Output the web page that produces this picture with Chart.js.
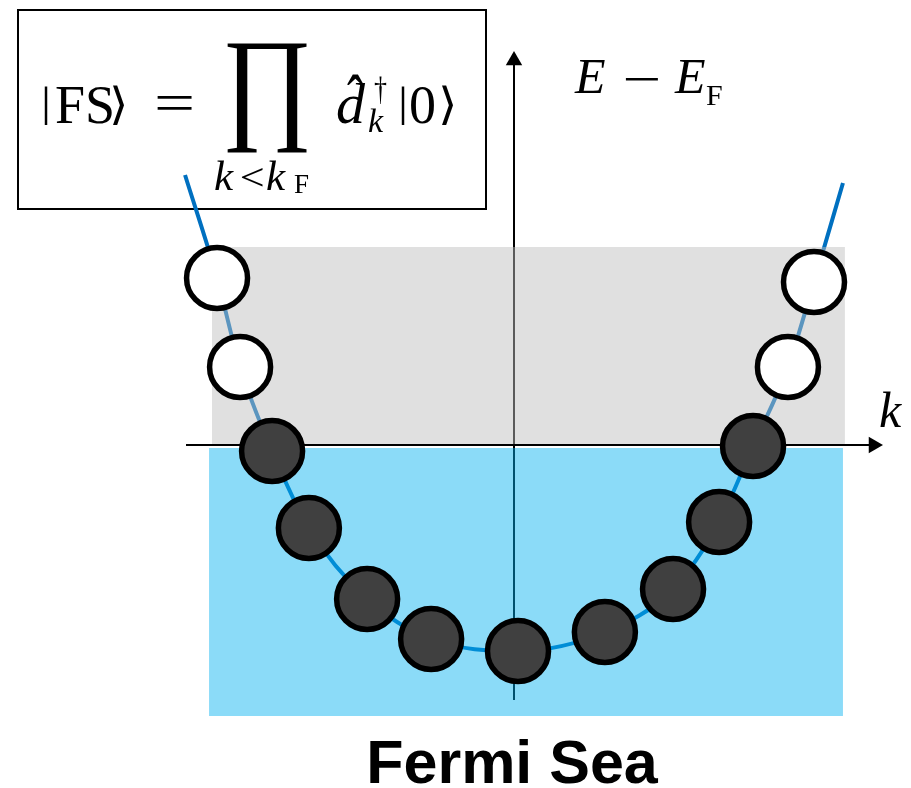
<!DOCTYPE html>
<html>
<head>
<meta charset="utf-8">
<script src="https://cdn.jsdelivr.net/npm/chart.js@4/dist/chart.umd.min.js"></script>
<style>
  html, body { margin: 0; padding: 0; background: #ffffff; }
  #wrap { width: 911px; height: 788px; position: relative; }
</style>
</head>
<body>
<div id="wrap"><canvas id="fermi"></canvas></div>
<script>
// Parabolic band E(k) - E_F (plot units: k horizontal, energy vertical)
const bandK = [-1.028, -0.928, -0.856, -0.756, -0.641, -0.459, -0.259, 0.0125, 0.284, 0.497, 0.641, 0.747, 0.856, 0.9375, 1.028];
const bandE = [1.35, 0.835, 0.39, -0.03, -0.415, -0.77, -0.97, -1.03, -0.935, -0.72, -0.385, -0.005, 0.39, 0.815, 1.31];

// Occupied states (below the Fermi level)
const occupiedK = [-0.756, -0.641, -0.459, -0.259, 0.0125, 0.284, 0.497, 0.641, 0.747];
const occupiedE = [-0.03, -0.415, -0.77, -0.97, -1.03, -0.935, -0.72, -0.385, -0.005];

// Empty states (above the Fermi level)
const emptyK = [-0.928, -0.856, 0.856, 0.9375];
const emptyE = [0.835, 0.39, 0.39, 0.815];

// Shaded regions: unoccupied window and the Fermi sea
const emptyBandK = [-0.944, 1.034];
const emptyBandTop = 0.99;
const emptyBandBottom = 0;
const seaK = [-0.953, 1.028];
const seaTop = -0.015;
const seaBottom = -1.355;

// Axis extents (arrow heads sit at the far ends)
const kAxisSpan = [-1.025, 1.1234];
const eAxisSpan = [-1.275, 1.9225];

// Visible window of the plane
const kWindow = [-1.60625, 1.240625];
const eWindow = [-1.715, 2.225];

// Text
const titleText = 'Fermi Sea';
const energyLabel = ['E', '\u2212', 'E', 'F'];
const momentumLabel = 'k';

const pts = (ks, es) => ks.map((k, i) => ({ x: k, y: es[i] }));

function fitText(ctx, text, font, x, y, w, h) {
  ctx.save();
  ctx.font = font;
  ctx.textAlign = 'left';
  ctx.textBaseline = 'alphabetic';
  const m = ctx.measureText(text);
  const gw = m.actualBoundingBoxLeft + m.actualBoundingBoxRight;
  const gh = m.actualBoundingBoxAscent + m.actualBoundingBoxDescent;
  ctx.translate(x, y);
  ctx.scale(w / gw, h / gh);
  ctx.fillText(text, m.actualBoundingBoxLeft, m.actualBoundingBoxAscent);
  ctx.restore();
}

function put(ctx, text, font, x, y, align) {
  ctx.font = font;
  ctx.textAlign = align || 'left';
  ctx.textBaseline = 'alphabetic';
  ctx.fillText(text, x, y);
}

const SERIF = "'Liberation Serif', 'DejaVu Serif', serif";

const formulaBox = {
  id: 'formulaBox',
  beforeDatasetsDraw(chart) {
    const ctx = chart.ctx;
    ctx.save();
    ctx.strokeStyle = '#000000';
    ctx.lineWidth = 2;
    ctx.strokeRect(18, 10, 468, 199);
    ctx.restore();
  },
  afterDatasetsDraw(chart) {
    const ctx = chart.ctx;
    ctx.save();
    ctx.fillStyle = '#000000';

    // |FS> = prod_{k<k_F} d^dagger_k |0>
    fitText(ctx, '|', '50px ' + SERIF, 44, 85, 4, 40);
    put(ctx, 'FS', '54px ' + SERIF, 55, 123);
    fitText(ctx, '\u27E9', '50px ' + SERIF, 113, 85, 12, 40);
    fitText(ctx, '=', '50px ' + SERIF, 157, 96, 35, 14);
    fitText(ctx, '\u220F', '120px ' + SERIF, 227, 43, 80, 110);
    put(ctx, 'd', 'italic 58px ' + SERIF, 336, 123);
    fitText(ctx, '\u02C6', '50px ' + SERIF, 347, 73, 17, 11);
    fitText(ctx, '\u2020', '30px ' + SERIF, 374, 77, 13, 27);
    put(ctx, 'k', 'italic 34px ' + SERIF, 368, 132);
    fitText(ctx, '|', '50px ' + SERIF, 401, 85, 4, 40);
    put(ctx, '0', '54px ' + SERIF, 409, 123);
    fitText(ctx, '\u27E9', '50px ' + SERIF, 442, 85, 12, 40);
    put(ctx, 'k', 'italic 43px ' + SERIF, 214, 190);
    fitText(ctx, '<', '40px ' + SERIF, 242, 167, 21, 20);
    put(ctx, 'k', 'italic 43px ' + SERIF, 266, 190);
    put(ctx, 'F', '27px ' + SERIF, 294, 193);

    // Axis labels
    put(ctx, energyLabel[0], 'italic 50px ' + SERIF, 575, 93);
    fitText(ctx, energyLabel[1], '50px ' + SERIF, 625, 78, 33, 3);
    put(ctx, energyLabel[2], 'italic 50px ' + SERIF, 675, 93);
    put(ctx, energyLabel[3], '30px ' + SERIF, 706, 105);
    put(ctx, momentumLabel, 'italic 50px ' + SERIF, 879, 427);

    // Caption
    put(ctx, titleText, "bold 61px 'Liberation Sans', Arial, sans-serif", 512, 783, 'center');
    ctx.restore();
  }
};

function build() {
  new Chart(document.getElementById('fermi'), {
    type: 'scatter',
    data: {
      datasets: [
        {
          label: 'band',
          data: pts(bandK, bandE),
          showLine: true,
          cubicInterpolationMode: 'monotone',
          borderColor: '#0070C0',
          borderWidth: 4,
          pointRadius: 0,
          fill: false,
          order: 6
        },
        {
          label: 'energy axis',
          data: [{ x: 0, y: eAxisSpan[0] }, { x: 0, y: eAxisSpan[1] }],
          showLine: true,
          borderColor: '#000000',
          backgroundColor: '#000000',
          borderWidth: 2,
          pointRadius: [0, 9.5],
          pointStyle: 'triangle',
          pointRotation: 0,
          pointBorderWidth: 0,
          fill: false,
          order: 5
        },
        {
          label: 'empty window',
          data: pts(emptyBandK, [emptyBandTop, emptyBandTop]),
          showLine: true,
          borderColor: 'rgba(0,0,0,0)',
          borderWidth: 0,
          backgroundColor: 'rgba(191,191,191,0.48)',
          fill: { value: emptyBandBottom },
          pointRadius: 0,
          order: 4
        },
        {
          label: 'Fermi sea',
          data: pts(seaK, [seaTop, seaTop]),
          showLine: true,
          borderColor: 'rgba(0,0,0,0)',
          borderWidth: 0,
          backgroundColor: 'rgba(0,176,240,0.455)',
          fill: { value: seaBottom },
          pointRadius: 0,
          order: 3
        },
        {
          label: 'momentum axis',
          data: [{ x: kAxisSpan[0], y: 0 }, { x: kAxisSpan[1], y: 0 }],
          showLine: true,
          borderColor: '#000000',
          backgroundColor: '#000000',
          borderWidth: 2,
          pointRadius: [0, 9.5],
          pointStyle: 'triangle',
          pointRotation: 90,
          pointBorderWidth: 0,
          fill: false,
          order: 2
        },
        {
          label: 'empty states',
          data: pts(emptyK, emptyE),
          showLine: false,
          backgroundColor: '#FFFFFF',
          borderColor: '#000000',
          pointRadius: 30.5,
          pointBorderWidth: 5.5,
          order: 1
        },
        {
          label: 'occupied states',
          data: pts(occupiedK, occupiedE),
          showLine: false,
          backgroundColor: '#404040',
          borderColor: '#000000',
          pointRadius: 30.5,
          pointBorderWidth: 5.5,
          order: 0
        }
      ]
    },
    options: {
      responsive: true,
      maintainAspectRatio: false,
      animation: false,
      events: [],
      layout: { padding: 0, autoPadding: false },
      plugins: {
        legend: { display: false },
        tooltip: { enabled: false },
        title: { display: false }
      },
      scales: {
        x: { type: 'linear', min: kWindow[0], max: kWindow[1], display: false },
        y: { type: 'linear', min: eWindow[0], max: eWindow[1], display: false }
      }
    },
    plugins: [formulaBox]
  });
}

const fontLoads = [
  "50px 'Liberation Serif'", "italic 50px 'Liberation Serif'",
  "50px 'DejaVu Serif'", "bold 61px 'Liberation Sans'"
].map(f => document.fonts.load(f).catch(() => null));
Promise.all(fontLoads).then(build, build);
</script>
</body>
</html>
